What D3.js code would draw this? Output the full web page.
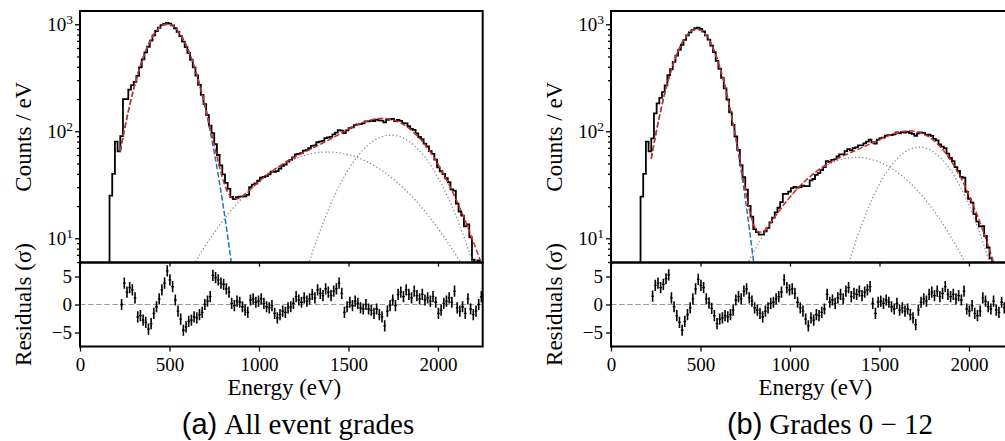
<!DOCTYPE html>
<html>
<head>
<meta charset="utf-8">
<script src="https://cdnjs.cloudflare.com/ajax/libs/d3/7.8.5/d3.min.js"></script>
<style>
body { margin: 0; background: #fff; }
#graph { width: 1005px; height: 441px; overflow: hidden; }
text { font-family: "Liberation Serif", "Times New Roman", serif; fill: #000; }
</style>
</head>
<body>
<div id="graph"></div>
<script>
"use strict"
// shared grid / axes
var binWidth = 15
var fitStep = 25
var energyDomain = [0, 2250]
var countsDomain = [5.94, 1330]
var residDomain = [-7.5, 7.5]
var energyTicks = [0, 500, 1000, 1500, 2000]
var countTicks = [10, 100, 1000]
var residTicks = [-5, 0, 5]

// (a) all event grades: counts / eV per 15 eV bin, first bin starts at histStartA
var histStartA = 165
var histA = [
	25, 40, 80, 65, 90, 200, 200, 245, 270, 290,
	330, 396, 470, 545, 616, 703, 788, 865, 928, 982,
	1010, 1030, 1012, 975, 918, 850, 773, 688, 613, 540,
	464, 396, 332, 271, 219, 179, 142, 113, 96, 76,
	60, 48, 39.5, 33, 29, 24.3, 23.3, 24.2, 24.5, 24.5,
	24.7, 25.5, 30, 31.7, 32.5, 34.5, 36.8, 37.4, 38.2, 39.6,
	42, 41.7, 42.5, 44.9, 47.6, 48.9, 52, 54, 56.9, 60.9,
	61.6, 62.6, 66, 66.7, 69.5, 73.1, 73.8, 79, 79.9, 81.3,
	86.4, 87.5, 88.8, 93.6, 97.3, 102.5, 101.6, 96.2, 101.8, 107,
	108.7, 114, 116, 116.6, 118.7, 123.8, 123.5, 124.9, 124.8, 128.5,
	126.4, 125.6, 121, 127.6, 129.1, 130.3, 124.7, 127.6, 125.3, 119.3,
	118.5, 111.4, 105.2, 102.9, 95.4, 88.4, 84.6, 76.8, 72.1, 65.3,
	61.6, 54.4, 45.9, 42.3, 39.9, 36.4, 33.4, 28.6, 27.9, 21.1,
	17.8, 16.3, 12.9, 13.5, 10.2, 6.3, 5.5, 6.2, 5.0
]
// residuals (sigma), first bin centre residStartA
var residStartA = 232.5
var residA = [
	0.0, 3.8, 2.2, 3.0, 2.6, 1.2, -2.2, -2.0, -2.8, -3.2,
	-4.4, -3.4, -1.6, -0.4, 1.0, 2.6, 3.8, 6.0, 4.4, 3.2,
	0.8, -1.2, -2.6, -4.6, -4.0, -3.0, -2.8, -2.2, -2.4, -1.8,
	-1.4, 0.0, 0.6, 1.4, 5.2, 4.8, 4.4, 3.8, 3.6, 2.8,
	2.2, 0.2, -0.2, 0.6, 0.4, -0.4, -1.0, -1.4,
	0.8, 1.0, 0.4, 0.6, 1.0, 0.2, -0.4, -0.6, -0.2, -1.6,
	-2.4, -1.8, -1.2, -1.4, -0.6, -0.4, 0.2, 1.4, 0.8, 0.4,
	1.2, 0.6, 1.0, 1.8, 1.2, 2.6, 2.0, 1.6, 2.8, 2.2,
	1.6, 2.4, 2.8, 3.8, 2.0, -1.4, -0.4, 0.4, -0.2, 0.6,
	0.2, -0.6, -0.8, 0.0, -0.8, -1.0, -1.6, -0.8, -1.8, -2.2,
	-3.8, -1.2, -0.2, 0.8, -0.2, 1.8, 2.2, 1.4, 2.6, 1.8,
	1.2, 2.4, 1.6, 1.0, 1.8, 0.8, 1.2, 0.6, 1.4, 0.4,
	-1.6, -1.0, 0.2, 0.6, 1.2, 0.4, 2.4, -0.6, -1.2, -0.4,
	-1.6, 1.0, -0.8, -1.8, -1.2, 0.0, 1.4
]
// fit model sampled every 25 eV
var totalFitStartA = 225
var totalFitA = [
	65, 107, 167, 249, 351, 473, 607, 740, 858, 947, 994, 993, 944, 854, 734, 601, 468, 353, 251, 172.5,
	114, 74.7, 49.6, 34.7, 27.1, 23.8, 23.4, 24.3, 26.2, 28.5, 31.1, 33.9, 36.8, 39.7, 42.6, 45.6, 48.5, 51.5, 54.4, 57.4,
	60.3, 63.3, 66.4, 69.6, 73, 76.5, 80.5, 84.6, 89.2, 94, 99.2, 104.4, 109.7, 114.9, 119.7, 124.2, 127.5, 130.4, 131.7, 132,
	130.5, 127.7, 123, 117.6, 110.5, 102.8, 94, 85.1, 76, 66.7, 58, 49.4, 41.8, 34.8, 28.7, 23.3, 18.7, 14.9, 11.7, 9.1,
	7, 5.4
]
var lowPeakStartA = 225
var lowPeakA = [
	64.8, 106.6, 166.8, 248, 351, 473, 607, 740, 858, 947, 994, 993, 944, 854, 734, 601, 468, 347, 244, 164,
	104.6, 63.5, 36.7, 20.1, 10.5, 5.2, 2.5
]
var midPeakStartA = 625
var midPeakA = [
	5.3, 6.2, 7.3, 8.5, 9.8, 11.2, 12.9, 14.6, 16.6, 18.6, 20.9, 23.2, 25.7, 28.3, 31, 33.8, 36.7, 39.5, 42.3, 45.2,
	47.9, 50.5, 53, 55.3, 57.4, 59.2, 60.8, 62.1, 63, 63.7, 64, 63.9, 63.5, 62.8, 61.7, 60.4, 58.7, 56.8, 54.7, 52.3,
	49.8, 47.1, 44.4, 41.6, 38.7, 35.9, 33, 30.3, 27.6, 25, 22.6, 20.2, 18, 16, 14.1, 12.4, 10.8, 9.4, 8.1, 7,
	5.95, 5.1
]
var highPeakStartA = 1225
var highPeakA = [
	2.9, 4.07, 5.6, 7.47, 9.9, 12.8, 16.4, 20.7, 25.6, 31.2, 37.3, 44, 50.9, 58.1, 65.2, 71.9, 78, 83.3, 87.5, 90.4,
	91.8, 91.8, 90.3, 87.3, 83.1, 77.8, 71.6, 64.9, 57.8, 50.7, 43.7, 37, 30.9, 25.4, 20.5, 16.3, 12.7, 9.8, 7.4, 5.5,
	4.0, 2.9
]

// (b) grades 0 - 12
var histStartB = 165
var histB = [
	24.5, 40, 80, 65, 86, 147, 182, 205, 232, 269,
	334, 380, 446, 509, 577, 641, 715, 787, 839, 886,
	918, 930, 903, 856, 786, 717, 632, 548, 456, 384,
	316, 252, 198, 150, 115, 89.4, 67, 48.3, 37.3, 28.5,
	20.1, 15.9, 12.2, 11.4, 10.8, 10.8, 11.6, 12.5, 14.1, 15.6,
	17.5, 19.3, 21.8, 26, 26, 27.3, 29.4, 30.2, 29.8, 30.1,
	31.1, 30.7, 30.7, 34.7, 35.8, 39.2, 40.6, 43.4, 46.2, 52.6,
	51.6, 54.1, 54.7, 58.1, 60.9, 60.9, 65.3, 68.1, 66.5, 69.5,
	70.7, 73.7, 73.7, 77, 79.9, 83.3, 78.6, 76.6, 83.4, 86.2,
	87.4, 91, 92.1, 92.3, 93.4, 97.5, 95.8, 98, 97.3, 98.8,
	96.4, 94.4, 90.5, 95.7, 97.5, 96.7, 92.9, 92.8, 90.6, 85,
	82.1, 75.2, 71.9, 69.4, 61.9, 56.4, 52.5, 46.2, 42.7, 37.5,
	36.8, 27.2, 23.4, 21.5, 16.8, 14.3, 12.9, 13, 10.5, 8.2,
	6.5, 5.5, 4.5, 4, 3.5, 3, 2.5, 2, 1.5
]
var residStartB = 232.5
var residB = [
	1.5, 3.4, 3.8, 3.0, 3.6, 4.6, 5.3, 1.2, -0.4, -2.0,
	-3.2, -4.6, -3.0, -1.8, -0.6, 1.0, 2.8, 4.5, 3.4, 3.0,
	1.0, 0.3, -0.7, -2.0, -3.4, -2.6, -2.4, -2.0, -2.2, -1.8,
	-1.0, 0.8, 1.4, 1.0, 2.4, 2.8, 1.2, 0.6, -0.6, -1.0,
	-1.6, -2.2, -1.2, -0.6, 0.2, 0.4, 1.0, 1.4, 2.2, 4.4,
	3.0, 2.6, 2.8, 2.0, 0.4, -0.6, -1.2, -2.6, -3.8, -2.4,
	-2.8, -1.8, -2.0, -1.4, -0.8, 1.8, 0.4, 0.8, 0.2, 1.2,
	1.8, 1.0, 2.4, 3.0, 1.4, 2.0, 1.8, 2.4, 1.6, 2.2,
	2.6, 3.2, 0.2, -1.6, 0.4, 0.6, 0.2, 0.8, 0.4, -0.4,
	-0.8, 0.2, -1.0, -0.6, -1.2, -0.8, -1.8, -2.4, -3.6, -1.0,
	0.4, 1.0, 0.6, 1.8, 2.2, 1.6, 2.4, 1.4, 2.0, 3.2,
	1.8, 1.4, 1.8, 1.0, 1.6, 0.8, 2.4, -0.8, -1.2, -0.2,
	-1.6, -2.0, -1.2, 1.2, 0.6, -0.4, -0.8, 0.6, -1.0, -1.4,
	0.4, -0.6
]
var totalFitStartB = 225
var totalFitB = [
	55.4, 93.2, 148.6, 224.5, 321.3, 436, 561, 684, 790.5, 866, 899, 882, 813.5, 704.4, 573, 438, 316.4, 214.3, 137.4, 83.5,
	49.1, 28.8, 18, 13, 11.4, 11.6, 12.8, 14.6, 16.7, 19.05, 21.6, 24.3, 27.2, 30.2, 33.2, 36.3, 39.4, 42.5, 45.5, 48.4,
	51.2, 54, 56.6, 59.2, 61.8, 64.4, 67.2, 70, 73.1, 76.4, 79.9, 83.5, 87.4, 90.9, 94.3, 97.2, 99.4, 100.7, 100.9, 99.8,
	97.5, 93.8, 88.9, 82.9, 75.9, 68.5, 60.7, 52.8, 45.2, 38, 31.4, 25.4, 20.2, 15.9, 12.2, 9.3, 6.9, 5.1, 3.7
]
var lowPeakStartB = 225
var lowPeakB = [
	55.4, 93.2, 148.6, 224.5, 321.3, 436, 561, 684, 790.5, 866, 899, 882, 813.5, 704.4, 573, 438, 314.6, 212, 134.5, 80,
	44.8, 23.5, 11.6, 5.4, 2.34
]
var midPeakStartB = 725
var midPeakB = [
	4.33, 5.27, 6.36, 7.61, 9.04, 10.65, 12.46, 14.47, 16.66, 19.05, 21.6, 24.3, 27.2, 30.1, 33.1, 36.2, 39.2, 42.1, 44.9, 47.5,
	49.9, 52, 53.8, 55.2, 56.2, 56.8, 57, 56.7, 56, 54.9, 53.4, 51.5, 49.4, 46.9, 44.2, 41.4, 38.4, 35.4, 32.4, 29.4,
	26.5, 23.7, 21, 18.5, 16.1, 14, 12, 10.2, 8.7, 7.3, 6.1, 5.0
]
var highPeakStartB = 1275
var highPeakB = [
	2.82, 4.0, 5.58, 7.6, 10.2, 13.3, 17.1, 21.5, 26.5, 32, 38, 44, 50.1, 55.8, 61, 65.3, 68.5, 70.4, 71, 70.1,
	67.9, 64.4, 59.8, 54.5, 48.7, 42.6, 36.5, 30.7, 25.3, 20.4, 16.1, 12.5, 9.5, 7.1, 5.2, 3.7
]

var captionTagA = "(a)", captionTextA = "All event grades"
var captionTagB = "(b)", captionTextB = "Grades 0 \u2212 12"

var width = 1005, height = 441
var plotTop = 11, plotMid = 262.5, plotBottom = 346.5
var panelWidth = 402.7
var svg = d3.select("#graph").append("svg").attr("width", width).attr("height", height)
var red = "#d62728", blue = "#1f77b4", grey = "#8c8c8c"
main()

function main() {
	drawPanel({
		id: "a", left: 80,
		histStart: histStartA, hist: histA, residStart: residStartA, resid: residA,
		total: [totalFitStartA, totalFitA], low: [lowPeakStartA, lowPeakA],
		mid: [midPeakStartA, midPeakA], high: [highPeakStartA, highPeakA],
		tag: captionTagA, caption: captionTextA, captionX: 298
	})
	drawPanel({
		id: "b", left: 611,
		histStart: histStartB, hist: histB, residStart: residStartB, resid: residB,
		total: [totalFitStartB, totalFitB], low: [lowPeakStartB, lowPeakB],
		mid: [midPeakStartB, midPeakB], high: [highPeakStartB, highPeakB],
		tag: captionTagB, caption: captionTextB, captionX: 830
	})
}

function fitPoints(series) {
	return series[1].map(function(v, i) { return [series[0] + i * fitStep, v] })
}

function drawPanel(p) {
	var x = d3.scaleLinear().domain(energyDomain).range([p.left, p.left + panelWidth])
	var y = d3.scaleLog().domain(countsDomain).range([plotMid, plotTop])
	var yr = d3.scaleLinear().domain(residDomain).range([plotBottom, plotMid])
	var g = svg.append("g")

	g.append("clipPath").attr("id", "clipTop" + p.id).append("rect")
		.attr("x", p.left).attr("y", plotTop).attr("width", panelWidth).attr("height", plotMid - plotTop)
	g.append("clipPath").attr("id", "clipRes" + p.id).append("rect")
		.attr("x", p.left).attr("y", plotMid).attr("width", panelWidth).attr("height", plotBottom - plotMid)

	var spec = g.append("g").attr("clip-path", "url(#clipTop" + p.id + ")")
	// step histogram, dropping to the floor on both ends
	var steps = [[p.histStart, 1]]
	p.hist.forEach(function(v, i) {
		var e = p.histStart + i * binWidth
		steps.push([e, v], [e + binWidth, v])
	})
	steps.push([p.histStart + p.hist.length * binWidth, 1])
	var stepLine = d3.line().x(function(d) { return x(d[0]) }).y(function(d) { return y(Math.max(d[1], 1)) })
	spec.append("path").attr("d", stepLine(steps))
		.attr("fill", "none").attr("stroke", "#000").attr("stroke-width", 1.8)

	var fitLine = d3.line().curve(d3.curveMonotoneX)
		.x(function(d) { return x(d[0]) }).y(function(d) { return y(Math.max(d[1], 1)) })
	;[p.mid, p.high].forEach(function(s) {
		spec.append("path").attr("d", fitLine(fitPoints(s)))
			.attr("fill", "none").attr("stroke", grey).attr("stroke-width", 1.3)
			.attr("stroke-dasharray", "1.3,2.3")
	})
	spec.append("path").attr("d", fitLine(fitPoints(p.low)))
		.attr("fill", "none").attr("stroke", blue).attr("stroke-width", 1.5)
		.attr("stroke-dasharray", "5.5,2.4")
	spec.append("path").attr("d", fitLine(fitPoints(p.total)))
		.attr("fill", "none").attr("stroke", red).attr("stroke-width", 1.5)
		.attr("stroke-dasharray", "5.5,2.4")

	// residuals
	var res = g.append("g").attr("clip-path", "url(#clipRes" + p.id + ")")
	res.append("line")
		.attr("x1", p.left).attr("x2", p.left + panelWidth)
		.attr("y1", yr(0)).attr("y2", yr(0))
		.attr("stroke", "#9a9a9a").attr("stroke-width", 1.2).attr("stroke-dasharray", "5.5,2.6")
	var bars = res.selectAll("g.bar").data(p.resid).enter().append("g").attr("class", "bar")
	bars.append("line")
		.attr("x1", function(d, i) { return x(p.residStart + i * binWidth) })
		.attr("x2", function(d, i) { return x(p.residStart + i * binWidth) })
		.attr("y1", function(d) { return yr(d - 1) })
		.attr("y2", function(d) { return yr(d + 1) })
		.attr("stroke", "#000").attr("stroke-width", 1.6)
	bars.append("line")
		.attr("x1", function(d, i) { return x(p.residStart + i * binWidth - binWidth / 2) })
		.attr("x2", function(d, i) { return x(p.residStart + i * binWidth + binWidth / 2) })
		.attr("y1", function(d) { return yr(d) })
		.attr("y2", function(d) { return yr(d) })
		.attr("stroke", "#000").attr("stroke-width", 1.3)

	// axes
	var minor = []
	;[1, 10, 100].forEach(function(dec) {
		for (var m = 2; m < 10; m++) {
			if (dec * m >= countsDomain[0] && dec * m <= countsDomain[1]) minor.push(dec * m)
		}
	})
	var yMinor = g.append("g").attr("transform", "translate(" + p.left + ",0)")
		.call(d3.axisLeft(y).tickValues(minor).tickSize(3).tickFormat(""))
	var yMajor = g.append("g").attr("transform", "translate(" + p.left + ",0)")
		.call(d3.axisLeft(y).tickValues(countTicks).tickSize(5).tickPadding(2).tickFormat(""))
	yMajor.selectAll(".tick text").each(function(d) {
		var t = d3.select(this)
		t.append("tspan").text("10")
		t.append("tspan").attr("dy", "-0.5em").attr("font-size", "13.5px").text(Math.round(Math.log10(d)))
	})
	var yRes = g.append("g").attr("transform", "translate(" + p.left + ",0)")
		.call(d3.axisLeft(yr).tickValues(residTicks).tickSize(5).tickPadding(3)
			.tickFormat(function(d) { return d < 0 ? "\u2212" + Math.abs(d) : d }))
	var xTop = g.append("g").attr("transform", "translate(0," + plotMid + ")")
		.call(d3.axisBottom(x).tickValues(energyTicks).tickSize(4).tickFormat(""))
	var xBottom = g.append("g").attr("transform", "translate(0," + plotBottom + ")")
		.call(d3.axisBottom(x).tickValues(energyTicks).tickSize(5).tickPadding(6).tickFormat(d3.format("d")))
	;[yMinor, yMajor, yRes, xTop, xBottom].forEach(function(a) {
		a.attr("font-family", null).attr("font-size", null)
		a.select(".domain").remove()
		a.selectAll(".tick line").attr("stroke", "#000").attr("stroke-width", 1.3)
		a.selectAll(".tick text").attr("fill", "#000").style("font-size", "19px")
	})

	// frames
	g.append("rect").attr("x", p.left).attr("y", plotTop)
		.attr("width", panelWidth).attr("height", plotMid - plotTop)
		.attr("fill", "none").attr("stroke", "#000").attr("stroke-width", 2)
	g.append("rect").attr("x", p.left).attr("y", plotMid)
		.attr("width", panelWidth).attr("height", plotBottom - plotMid)
		.attr("fill", "none").attr("stroke", "#000").attr("stroke-width", 2)

	// labels
	g.append("text")
		.attr("transform", "translate(" + (p.left - 49) + "," + ((plotTop + plotMid) / 2) + ") rotate(-90)")
		.attr("text-anchor", "middle").style("font-size", "23px").text("Counts / eV")
	g.append("text")
		.attr("transform", "translate(" + (p.left - 49) + "," + ((plotMid + plotBottom) / 2) + ") rotate(-90)")
		.attr("text-anchor", "middle").style("font-size", "23px").text("Residuals (\u03c3)")
	g.append("text")
		.attr("x", p.left + panelWidth / 2 + 3).attr("y", 395)
		.attr("text-anchor", "middle").style("font-size", "23px").text("Energy (eV)")
	var cap = g.append("text")
		.attr("x", p.captionX).attr("y", 434)
		.attr("text-anchor", "middle").style("font-size", "29px")
	cap.append("tspan").style("font-family", "'Liberation Sans', Arial, sans-serif").text(p.tag)
	cap.append("tspan").attr("dx", 7).text(p.caption)
}
</script>
</body>
</html>
